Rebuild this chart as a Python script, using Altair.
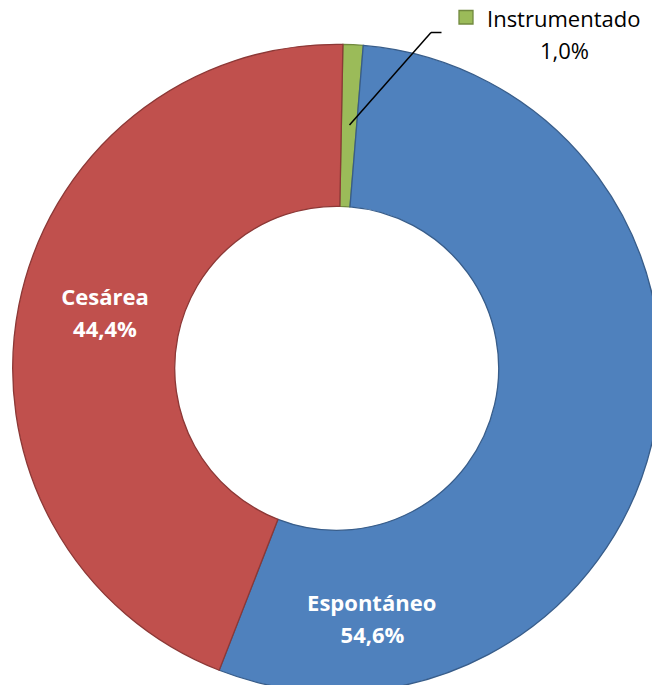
import math
import altair as alt
import pandas as pd

# ---- data ----
categories = ["Instrumentado", "Espontáneo", "Cesárea"]
values = [1.0, 54.6, 44.4]
value_labels = ["1,0%", "54,6%", "44,4%"]
fills = ["#9BBB59", "#4F81BD", "#C0504D"]
strokes = ["#71893F", "#385D8A", "#8C3836"]

df = pd.DataFrame({
    "cat": categories,
    "value": values,
    "order": list(range(len(categories))),
})

W, H = 644, 677
CX, CY = 328.7, 360.3
R_OUT, R_IN = 324, 162
OFF = math.radians(1.1)
FONT = "Open Sans"

color_scale = alt.Scale(domain=categories, range=fills)
stroke_scale = alt.Scale(domain=categories, range=strokes)

donut = alt.Chart(df).mark_arc(
    outerRadius=R_OUT, innerRadius=R_IN, strokeWidth=1.3
).encode(
    theta=alt.Theta("value:Q", stack=True,
                    scale=alt.Scale(range=[OFF, OFF + 2 * math.pi])),
    color=alt.Color("cat:N", scale=color_scale, legend=None),
    stroke=alt.Stroke("cat:N", scale=stroke_scale, legend=None),
    order=alt.Order("order:Q"),
    x=alt.value(CX),
    y=alt.value(CY),
)

def txt(s, x, y, color, bold, size):
    return alt.Chart(pd.DataFrame({"t": [s]})).mark_text(
        font=FONT, fontSize=size, fontWeight="bold" if bold else "normal",
        color=color, align="center", baseline="alphabetic"
    ).encode(text="t:N", x=alt.value(x), y=alt.value(y))

labels = [
    txt(categories[2], 97, 297, "white", True, 22),
    txt(value_labels[2], 97, 329.3, "white", True, 22),
    txt(categories[1], 363.7, 602.7, "white", True, 22),
    txt(value_labels[1], 364.5, 635.3, "white", True, 22),
    txt(categories[0], 555.7, 18.7, "black", False, 22),
    txt(value_labels[0], 556.5, 51.3, "black", False, 22),
]

leader_h = alt.Chart(pd.DataFrame({"a": [0]})).mark_rule(
    color="black", strokeWidth=1.5
).encode(x=alt.value(423), x2=alt.value(433.5), y=alt.value(24.5), y2=alt.value(24.5))
leader_d = alt.Chart(pd.DataFrame({"a": [0]})).mark_rule(
    color="black", strokeWidth=1.5
).encode(x=alt.value(423), x2=alt.value(341.5), y=alt.value(24.5), y2=alt.value(117))

key = alt.Chart(pd.DataFrame({"a": [0]})).mark_rect(
    fill=fills[0], stroke=strokes[0], strokeWidth=1.3
).encode(x=alt.value(451), x2=alt.value(465), y=alt.value(2.5), y2=alt.value(16))

chart = alt.layer(donut, leader_h, leader_d, key, *labels).properties(
    width=W, height=H, autosize=alt.AutoSizeParams(type="none"), padding=0
).configure_view(stroke=None)

chart.save("out.html", embed_options={"renderer": "svg", "actions": False})
